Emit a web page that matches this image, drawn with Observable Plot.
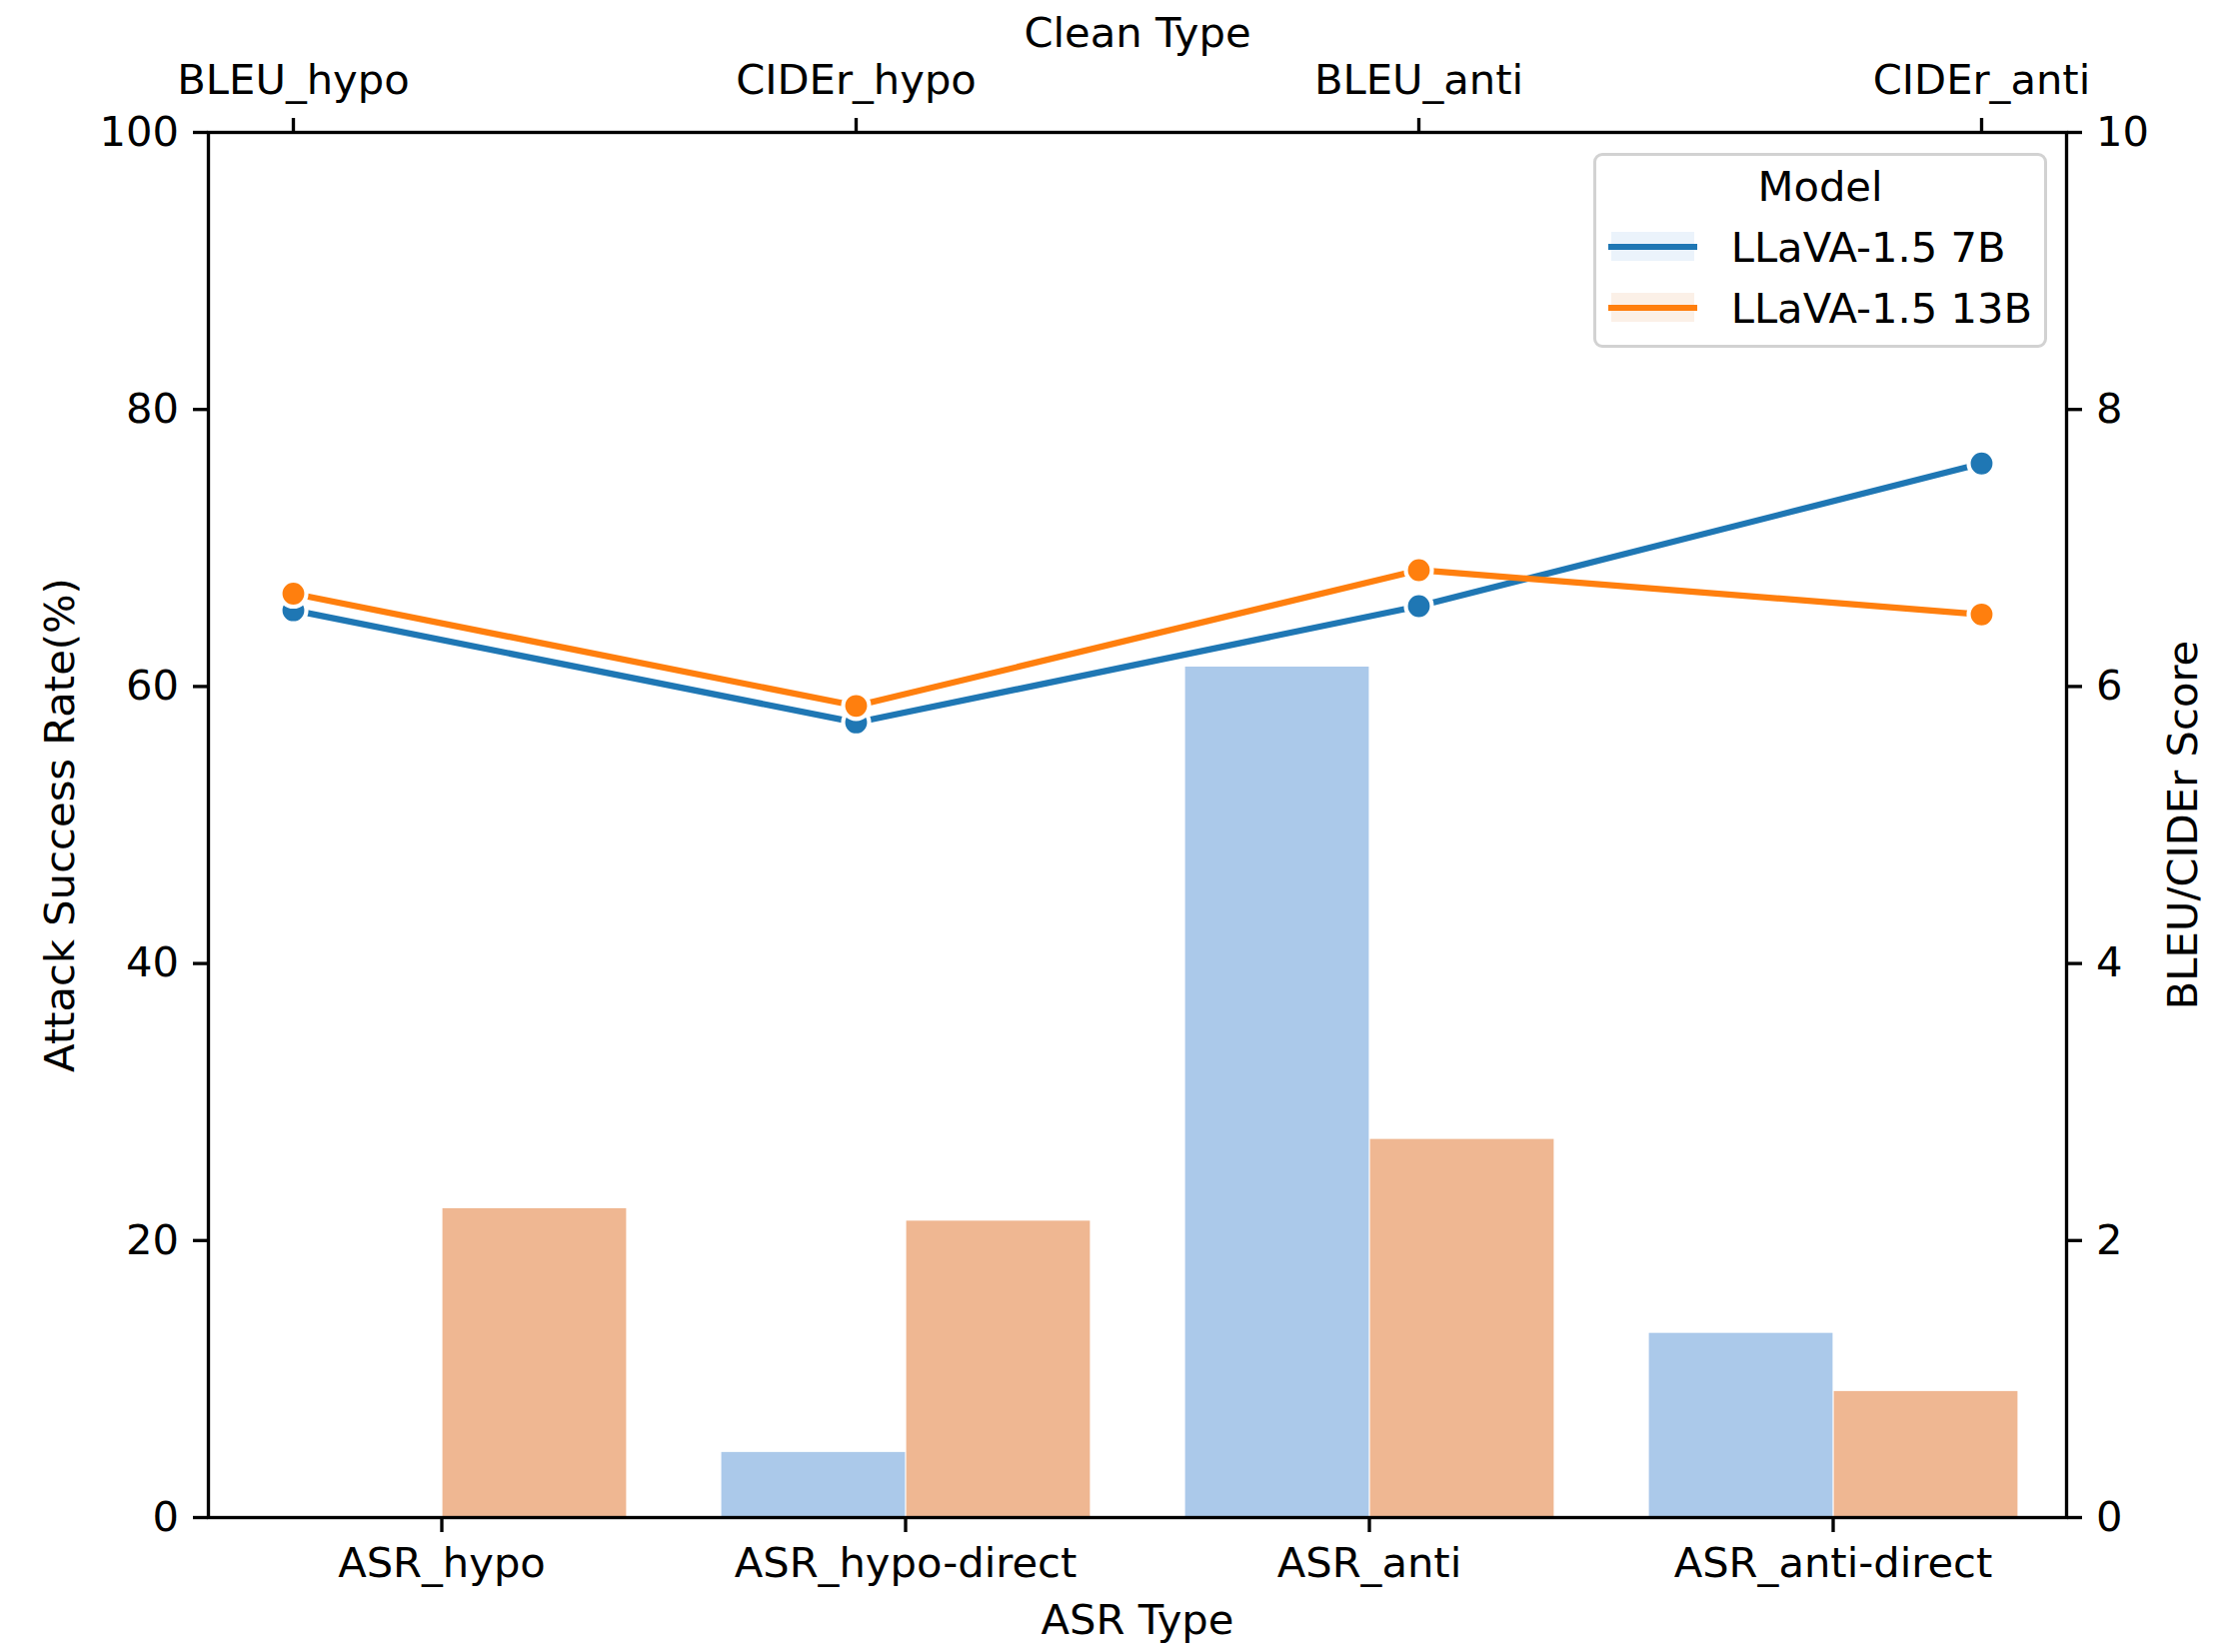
<!DOCTYPE html>
<html>
<head>
<meta charset="utf-8">
<script src="https://cdn.jsdelivr.net/npm/d3@7"></script>
<script src="https://cdn.jsdelivr.net/npm/@observablehq/plot@0.6"></script>
<style>
  body { margin: 0; background: #ffffff; font-family: "DejaVu Sans", sans-serif; }
  #chart { position: relative; width: 2226px; height: 1653px; background: #ffffff; }
  #chart svg { position: absolute; left: 0; top: 0; max-width: none; }
  #legend { position: absolute; left: 1594px; top: 153px; width: 454px; height: 195px;
    box-sizing: border-box; border: 3px solid #d2d2d2; border-radius: 9px;
    background: rgba(255,255,255,0.8); font-family: "DejaVu Sans"; font-size: 41.67px; color: #000; }
  #legend .title { position: absolute; left: 0; width: 100%; top: 6.3px; height: 50px; line-height: 50px; text-align: center; }
  #legend .band { position: absolute; width: 83px; height: 29px; }
  #legend .hline { position: absolute; width: 89px; height: 6.25px; }
  #legend .lab { position: absolute; height: 50px; line-height: 50px; white-space: nowrap; }
</style>
</head>
<body>
<div id="chart"></div>
<script>
// ---- data ----
const asrTypes = ["ASR_hypo", "ASR_hypo-direct", "ASR_anti", "ASR_anti-direct"];
const cleanTypes = ["BLEU_hypo", "CIDEr_hypo", "BLEU_anti", "CIDEr_anti"];
const models = ["LLaVA-1.5 7B", "LLaVA-1.5 13B"];
const asr7B = [0, 4.7, 61.4, 13.3];
const asr13B = [22.3, 21.4, 27.3, 9.1];
const clean7B = [6.55, 5.74, 6.58, 7.61];
const clean13B = [6.67, 5.86, 6.84, 6.52];
const yTicksLeft = [0, 20, 40, 60, 80, 100];
const yTicksRight = [0, 2, 4, 6, 8, 10];
const barColors = ["#abc9ea", "#efb792"];
const lineColors = ["#1f77b4", "#ff7f0e"];
const bandColors = ["#ebf3fb", "#fbf0e7"];

// ---- tables built from arrays ----
const bars = [];
asrTypes.forEach((t, i) => {
  bars.push({asr: t, model: models[0], value: asr7B[i]});
  bars.push({asr: t, model: models[1], value: asr13B[i]});
});
const line7 = cleanTypes.map((c, i) => ({clean: c, score: clean7B[i]}));
const line13 = cleanTypes.map((c, i) => ({clean: c, score: clean13B[i]}));

const W = 2226, H = 1653;
const FS = 41.67;
const common = {
  width: W, height: H,
  marginTop: 132, marginLeft: 208, marginRight: 159, marginBottom: 135,
  style: {fontFamily: "DejaVu Sans", fontSize: FS + "px", background: "transparent", overflow: "visible", color: "black"}
};

// Plot A: grouped bars (bottom categorical axis)
const A = Plot.plot({
  ...common,
  fx: {domain: asrTypes, paddingInner: 0.2, paddingOuter: 0.1},
  x: {domain: models, padding: 0, axis: null},
  y: {domain: [0, 100], axis: null},
  color: {domain: models, range: barColors},
  marks: [
    Plot.barY(bars, {fx: "asr", x: "model", y: "value", fill: "model", insetLeft: 0.6, insetRight: 0.6}),
    Plot.axisFx({anchor: "bottom", tickSize: 15, tickPadding: 15, strokeWidth: 3.33, label: null, fontSize: FS})
  ]
});

// Plot B: frame, left axis, axis titles
const B = Plot.plot({
  ...common,
  y: {domain: [0, 100]},
  marks: [
    Plot.frame({stroke: "black", strokeWidth: 3.33}),
    Plot.axisY({anchor: "left", ticks: yTicksLeft, tickSize: 15, tickPadding: 14.6, strokeWidth: 3.33, label: null, fontSize: FS}),
    Plot.text(["Attack Success Rate(%)"], {text: d => d, frameAnchor: "left", textAnchor: "middle", lineAnchor: "middle", rotate: -90, dx: -148, fontSize: FS, fill: "black"}),
    Plot.text(["ASR Type"], {text: d => d, frameAnchor: "bottom", textAnchor: "middle", lineAnchor: "middle", dy: 103, fontSize: FS, fill: "black"})
  ]
});

// Plot C: lines (twin axes: top x, right y)
const C = Plot.plot({
  ...common,
  x: {type: "point", domain: cleanTypes, padding: 0.15},
  y: {domain: [0, 10]},
  marks: [
    Plot.line(line7, {x: "clean", y: "score", stroke: lineColors[0], strokeWidth: 6.25}),
    Plot.dot(line7, {x: "clean", y: "score", r: 13, fill: lineColors[0], stroke: "white", strokeWidth: 4.17}),
    Plot.line(line13, {x: "clean", y: "score", stroke: lineColors[1], strokeWidth: 6.25}),
    Plot.dot(line13, {x: "clean", y: "score", r: 13, fill: lineColors[1], stroke: "white", strokeWidth: 4.17}),
    Plot.axisX({anchor: "top", tickSize: 15, tickPadding: 24, strokeWidth: 3.33, label: null, fontSize: FS}),
    Plot.axisY({anchor: "right", ticks: yTicksRight, tickSize: 15, tickPadding: 14.6, strokeWidth: 3.33, label: null, fontSize: FS}),
    Plot.text(["Clean Type"], {text: d => d, frameAnchor: "top", textAnchor: "middle", lineAnchor: "middle", dy: -99, fontSize: FS, fill: "black"}),
    Plot.text(["BLEU/CIDEr Score"], {text: d => d, frameAnchor: "right", textAnchor: "middle", lineAnchor: "middle", rotate: -90, dx: 117, fontSize: FS, fill: "black"})
  ]
});

const chart = document.getElementById("chart");
chart.append(A, B, C);

// Legend
const lg = document.createElement("div");
lg.id = "legend";
const title = document.createElement("div");
title.className = "title";
title.textContent = "Model";
lg.append(title);
const rowY = [90.7, 151.7];   // row centres inside the border
models.forEach((m, i) => {
  const band = document.createElement("div");
  band.className = "band";
  band.style.left = "15px";
  band.style.top = (rowY[i] - 14.5) + "px";
  band.style.background = bandColors[i];
  const hl = document.createElement("div");
  hl.className = "hline";
  hl.style.left = "12px";
  hl.style.top = (rowY[i] - 3.1) + "px";
  hl.style.background = lineColors[i];
  const lab = document.createElement("div");
  lab.className = "lab";
  lab.style.left = "134.7px";
  lab.style.top = (rowY[i] - 24) + "px";
  lab.textContent = m;
  lg.append(band, hl, lab);
});
chart.append(lg);
</script>
</body>
</html>
